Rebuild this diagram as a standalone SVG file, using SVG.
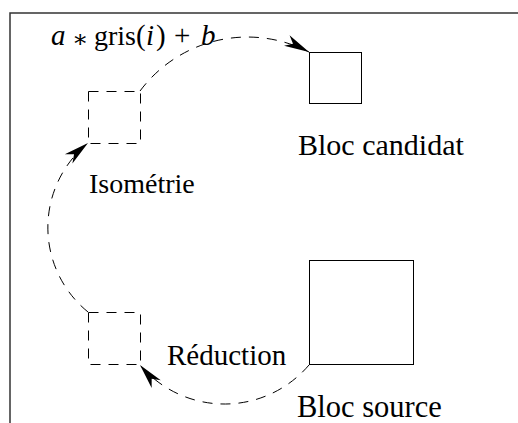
<svg xmlns="http://www.w3.org/2000/svg" width="518" height="423" viewBox="0 0 518 423">
<style>
.t{font-family:"Liberation Serif","Times New Roman",serif;fill:#000}
.solid{fill:none;stroke:#000;stroke-width:1}
.dash{fill:none;stroke:#000;stroke-width:1;stroke-dasharray:10 8}
.frame{fill:none;stroke:#333;stroke-width:1.5}
</style>
<defs>
<marker id="ah" markerWidth="30" markerHeight="14" viewBox="-27 -7 30 14" refX="0" refY="0" orient="auto" markerUnits="userSpaceOnUse">
<path d="M0,0 L-25,-6 L-18,0 L-25,6 Z" fill="#000"/>
</marker>
</defs>
<rect class="frame" x="10" y="13" width="530" height="430" fill="#fff"/>
<g id="candidat">
<rect class="solid" x="309.5" y="52.5" width="52" height="51"/>
<text class="t" x="298" y="155" font-size="30">Bloc candidat</text>
</g>
<g id="source">
<rect class="solid" x="309.5" y="260.5" width="104" height="104"/>
<text class="t" x="297" y="417" font-size="30.5">Bloc source</text>
</g>
<g id="iso">
<rect class="dash" x="88.5" y="91.5" width="52" height="52"/>
</g>
<g id="red">
<rect class="dash" x="88.5" y="312.5" width="52" height="52"/>
</g>
<g id="formula">
<text class="t" y="45" font-size="29"><tspan x="51" font-style="italic">a</tspan><tspan x="72" y="47" font-family="DejaVu Serif,serif" font-size="24">∗</tspan><tspan x="94" y="45" font-size="28">gris</tspan><tspan x="136">(</tspan><tspan x="146" font-style="italic">i</tspan><tspan x="156">)</tspan><tspan x="174">+</tspan><tspan x="201" font-style="italic">b</tspan></text>
</g>
<g id="labels">
<text class="t" x="89" y="193" font-size="28">Isométrie</text>
<text class="t" x="167" y="365" font-size="29">Réduction</text>
</g>
<g id="connectors">
<path class="dash" d="M309,365 A111,111 0 0 1 140,365" marker-end="url(#ah)"/>
<path class="dash" d="M88,312 A109,109 0 0 1 88,143" marker-end="url(#ah)"/>
<path class="dash" d="M140,91 A134,134 0 0 1 309,52" marker-end="url(#ah)"/>
</g>
</svg>
